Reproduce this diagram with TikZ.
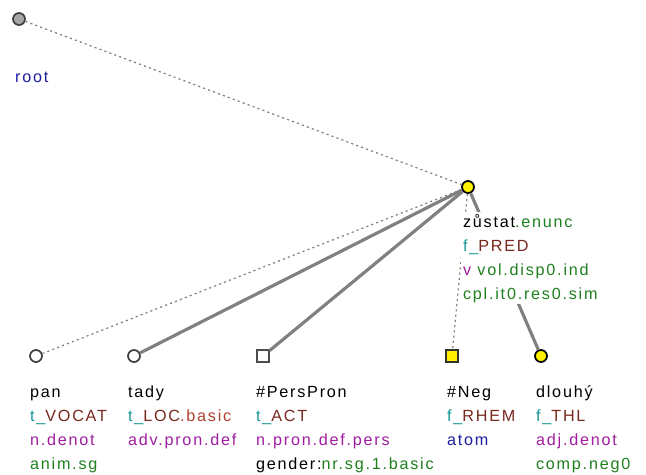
\documentclass[tikz,border=0pt]{standalone}
\usepackage{fontspec}
\setmainfont{Liberation Sans}[LetterSpace=11]
\usetikzlibrary{positioning}

\definecolor{functeal}{RGB}{20,150,150}
\definecolor{funcbrown}{RGB}{120,40,30}
\definecolor{subbrown}{RGB}{176,64,48}
\definecolor{sempurple}{RGB}{160,30,160}
\definecolor{gramgreen}{RGB}{30,128,30}
\definecolor{rootblue}{RGB}{30,30,160}
\definecolor{nodeyellow}{RGB}{255,240,0}

\begin{document}
\begin{tikzpicture}[x=0.02cm, y=-0.02cm,
    tnode/.style={draw=black!75, line width=1pt, circle, fill=white, inner sep=0pt, minimum size=0.24cm},
    tbox/.style={draw=black!70, line width=1pt, rectangle, fill=white, inner sep=0pt, minimum size=0.23cm},
    tlabel/.style={anchor=base west, align=left, fill=white, inner sep=1pt, font=\fontsize{9.2}{13.66}\selectfont},
    hidden/.style={draw=black!50, line width=0.7pt, dash pattern=on 1.2pt off 1.8pt},
    shown/.style={draw=black!50, line width=1.8pt}]
    \useasboundingbox (0,0) rectangle (646,474);

    % Root
    \node[tnode, fill=black!35] (root) at (19,19) {};

    % Predicate
    \node[tnode, fill=nodeyellow, draw=black] (zustat) at (468,187) {};

    % Dependents
    \node[tnode] (pan) at (36,356) {};
    \node[tnode] (tady) at (134,356) {};
    \node[tbox] (perspron) at (263,356) {};
    \node[tbox, fill=nodeyellow, draw=black!80] (neg) at (452,356) {};
    \node[tnode, fill=nodeyellow, draw=black] (dlouhy) at (541,356) {};

    % Edges
    \draw[hidden] (root) -- (zustat);
    \draw[hidden] (zustat) -- (pan);
    \draw[hidden] (zustat) -- (neg);
    \draw[shown] (zustat) -- (tady);
    \draw[shown] (zustat) -- (perspron);
    \draw[shown] (zustat) -- (dlouhy);

    % Labels (base = last line)
    \node[tlabel] (rootlab) at ([shift={(-6,63)}]root.center) {\textcolor{rootblue}{root}};
    \node[tlabel] (zustatlab) at ([shift={(-7,112)}]zustat.center) {z\r{u}stat\textcolor{gramgreen}{.enunc}\\
        \textcolor{functeal}{f\_}\textcolor{funcbrown}{PRED}\\
        \textcolor{sempurple}{v} \textcolor{gramgreen}{vol.disp0.ind}\\
        \textcolor{gramgreen}{cpl.it0.res0.sim}};
    \node[tlabel] (panlab) at ([shift={(-8,113)}]pan.center) {pan\\
        \textcolor{functeal}{t\_}\textcolor{funcbrown}{VOCAT}\\
        \textcolor{sempurple}{n.denot}\\
        \textcolor{gramgreen}{anim.sg}};
    \node[tlabel] (tadylab) at ([shift={(-8,89)}]tady.center) {tady\\
        \textcolor{functeal}{t\_}\textcolor{funcbrown}{LOC}\textcolor{subbrown}{.basic}\\
        \textcolor{sempurple}{adv.pron.def}};
    \node[tlabel] (persplab) at ([shift={(-9,113)}]perspron.center) {\#PersPron\\
        \textcolor{functeal}{t\_}\textcolor{funcbrown}{ACT}\\
        \textcolor{sempurple}{n.pron.def.pers}\\
        gender:\textcolor{gramgreen}{nr.sg.1.basic}};
    \node[tlabel] (neglab) at ([shift={(-7,89)}]neg.center) {\#Neg\\
        \textcolor{functeal}{f\_}\textcolor{funcbrown}{RHEM}\\
        \textcolor{rootblue}{atom}};
    \node[tlabel] (dlouhylab) at ([shift={(-7,113)}]dlouhy.center) {dlouh\'y\\
        \textcolor{functeal}{f\_}\textcolor{funcbrown}{THL}\\
        \textcolor{sempurple}{adj.denot}\\
        \textcolor{gramgreen}{comp.neg0}};
\end{tikzpicture}
\end{document}
